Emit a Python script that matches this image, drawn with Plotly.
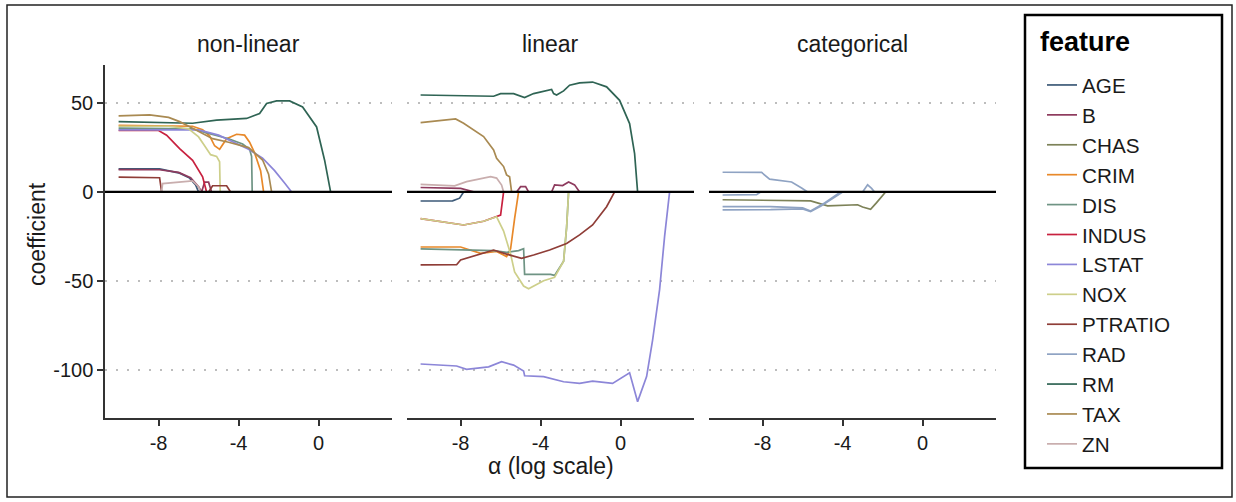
import plotly.graph_objects as go

# ---------------- data (x = log alpha, y = coefficient) ----------------
FEATURES = ["AGE", "B", "CHAS", "CRIM", "DIS", "INDUS", "LSTAT", "NOX",
            "PTRATIO", "RAD", "RM", "TAX", "ZN"]
COLORS = ["#3d5a78", "#8e3b5e", "#7d8258", "#e8892a", "#6f9484", "#c8213f",
          "#8c86d8", "#cdcf8a", "#8f3d37", "#8fa3c3", "#2f6454", "#a98a52", "#c9aeae"]
PANELS = ["non-linear", "linear", "categorical"]
X_TICKS = [-8, -4, 0]
Y_TICKS = [-100, -50, 0, 50]

# non-linear panel
NL_AGE_X = [-10, -7.95, -6.95, -6.45, -6.15, -6.0]
NL_AGE_Y = [13.0, 13.0, 10.6, 7.8, 4.0, 0]
NL_B_X = [-10, -7.95, -7.0, -6.4, -6.0, -5.85, -5.7, -5.5, -5.35]
NL_B_Y = [12.6, 12.5, 11.0, 8.0, 3.0, 0, 5.5, 5.5, 0]
NL_CRIM_X = [-10, -6.3, -5.8, -5.45, -5.2, -4.95, -4.6, -4.1, -3.7, -3.45, -3.2, -2.9, -2.75]
NL_CRIM_Y = [37.5, 37.0, 35.0, 31.6, 26.0, 24.0, 30.0, 32.5, 32.0, 28.0, 22.0, 12.0, 0]
NL_DIS_X = [-10, -6.3, -5.5, -4.5, -3.8, -3.45, -3.35, -3.32]
NL_DIS_Y = [36.0, 35.5, 33.0, 30.0, 27.0, 24.0, 20.0, 0]
NL_INDUS_X = [-10, -8.0, -7.6, -6.95, -6.3, -5.8, -5.6]
NL_INDUS_Y = [34.6, 34.6, 32.0, 24.4, 17.8, 8.5, 0]
NL_LSTAT_X = [-10, -6.0, -5.0, -4.3, -3.5, -2.8, -2.2, -1.7, -1.35]
NL_LSTAT_Y = [35.0, 35.0, 32.0, 28.3, 24.0, 19.0, 12.0, 5.0, 0]
NL_NOX_X = [-10, -7.5, -6.5, -6.0, -5.7, -5.4, -5.1, -4.95, -4.92]
NL_NOX_Y = [37.0, 37.0, 35.5, 31.0, 26.0, 21.0, 20.0, 17.0, 0]
NL_PTRATIO_X = [-10, -7.95, -7.85, -5.5, -5.3, -4.6, -4.4]
NL_PTRATIO_Y = [8.3, 8.0, 0, 0, 3.5, 3.5, 0]
NL_RM_X = [-10, -6.3, -5.1, -3.6, -2.95, -2.6, -2.1, -1.45, -0.8, -0.1, 0.3, 0.6]
NL_RM_Y = [39.6, 38.7, 40.5, 41.4, 44.2, 49.8, 51.3, 51.3, 47.9, 36.6, 17.9, 0]
NL_TAX_X = [-10, -8.45, -7.5, -6.95, -6.3, -5.8, -5.3, -4.5, -3.5, -2.8, -2.5, -2.35]
NL_TAX_Y = [42.8, 43.4, 42.0, 39.6, 35.9, 33.0, 30.0, 28.0, 25.0, 18.0, 10.0, 0]
NL_ZN_X = [-7.85, -7.8, -6.3, -6.0, -5.9]
NL_ZN_Y = [0, 4.7, 6.2, 3.0, 0]

# linear panel
LI_AGE_X = [-10, -8.4, -8.05, -7.85]
LI_AGE_Y = [-5.1, -5.0, -3.5, 0]
LI_B_X = [-10, -8.0, -7.3, -5.2, -5.0, -4.75, -4.6, -3.45, -3.3, -2.9, -2.6, -2.3, -2.05]
LI_B_Y = [2.5, 2.0, 0, 0, 3.0, 3.0, 0, 0, 4.0, 3.6, 5.6, 4.0, 0]
LI_CRIM_X = [-10, -8.0, -7.0, -6.2, -5.7, -5.5, -5.3, -5.1]
LI_CRIM_Y = [-31.0, -31.0, -34.6, -33.5, -36.4, -32.0, -15.0, 0]
LI_DIS_X = [-10, -6.35, -5.7, -5.1, -4.85, -4.8, -3.5, -3.3, -2.85, -2.7, -2.6]
LI_DIS_Y = [-32.1, -33.0, -34.0, -33.0, -32.0, -46.4, -46.4, -47.0, -39.0, -20.0, 0]
LI_INDUS_X = [-10, -7.85, -6.85, -6.2, -6.0, -5.85]
LI_INDUS_Y = [-15.0, -18.6, -16.5, -14.0, -13.0, 0]
LI_LSTAT_X = [-10, -8.2, -7.7, -6.6, -5.95, -5.35, -4.85, -4.8, -3.85, -2.85, -2.05,
              -1.4, -0.4, 0.45, 0.85, 1.3, 1.6, 1.95, 2.2, 2.45]
LI_LSTAT_Y = [-96.9, -98.0, -99.9, -98.5, -95.6, -97.5, -100.8, -103.5, -104.0, -106.9,
              -107.8, -106.5, -107.8, -101.8, -118.1, -104.0, -83.4, -55.0, -25.0, 0]
LI_NOX_X = [-10, -7.85, -6.85, -6.2, -5.85, -5.5, -5.3, -4.85, -4.6, -3.85, -3.3, -2.85, -2.7, -2.6]
LI_NOX_Y = [-15.0, -18.6, -16.5, -14.0, -22.0, -35.0, -45.0, -53.0, -54.5, -50.0, -48.0, -39.0, -20.0, 0]
LI_PTRATIO_X = [-10, -8.2, -8.0, -6.35, -5.7, -4.95, -4.35, -3.55, -2.7, -2.05, -1.4, -0.7, -0.3]
LI_PTRATIO_Y = [-41.1, -41.0, -38.3, -32.7, -35.0, -37.4, -35.5, -32.7, -29.0, -24.2, -18.6, -8.3, 0]
LI_RM_X = [-10, -6.35, -6.0, -5.35, -4.8, -4.35, -3.45, -3.35, -3.2, -2.85, -2.55, -2.05,
           -1.4, -0.7, -0.05, 0.45, 0.7, 0.85]
LI_RM_Y = [54.6, 53.9, 55.4, 55.4, 53.2, 55.4, 57.7, 55.4, 54.6, 56.9, 60.1, 61.4,
           61.9, 59.2, 51.6, 38.5, 21.6, 0]
LI_TAX_X = [-10, -8.25, -7.85, -6.85, -6.35, -6.2, -5.85, -5.7, -5.55, -5.45]
LI_TAX_Y = [39.0, 41.1, 38.7, 31.2, 23.7, 19.0, 14.3, 9.6, 8.5, 0]
LI_ZN_X = [-10, -8.3, -7.7, -6.5, -6.2, -5.95, -5.85]
LI_ZN_Y = [4.3, 3.4, 5.8, 8.6, 7.8, 3.9, 0]

# categorical panel
CA_CHAS_X = [-10, -5.6, -4.75, -3.25, -3.0, -2.6, -2.3, -1.85]
CA_CHAS_Y = [-4.4, -5.0, -7.8, -7.2, -8.5, -9.8, -6.0, 0]
CA_RAD1_X = [-10, -8.05, -7.65, -6.55, -6.05, -5.75]
CA_RAD1_Y = [11.1, 11.0, 7.2, 5.6, 2.2, 0]
CA_RAD2_X = [-10, -8.3, -8.1]
CA_RAD2_Y = [-1.7, -1.5, 0]
CA_RAD3_X = [-10, -7.6, -6.0, -5.6, -4.9, -4.1]
CA_RAD3_Y = [-8.3, -8.3, -9.0, -10.7, -6.2, 0]
CA_RAD4_X = [-10, -7.6, -6.0, -5.6, -5.1, -4.0]
CA_RAD4_Y = [-10.1, -10.0, -9.5, -11.0, -8.0, 0]
CA_RAD5_X = [-3.0, -2.75, -2.55, -2.4]
CA_RAD5_Y = [0, 4.0, 2.0, 0]

SERIES = [
    # (panel index, feature, x, y)
    (0, "AGE", NL_AGE_X, NL_AGE_Y), (0, "B", NL_B_X, NL_B_Y),
    (0, "CRIM", NL_CRIM_X, NL_CRIM_Y), (0, "DIS", NL_DIS_X, NL_DIS_Y),
    (0, "INDUS", NL_INDUS_X, NL_INDUS_Y), (0, "LSTAT", NL_LSTAT_X, NL_LSTAT_Y),
    (0, "NOX", NL_NOX_X, NL_NOX_Y), (0, "PTRATIO", NL_PTRATIO_X, NL_PTRATIO_Y),
    (0, "RM", NL_RM_X, NL_RM_Y), (0, "TAX", NL_TAX_X, NL_TAX_Y),
    (0, "ZN", NL_ZN_X, NL_ZN_Y),
    (1, "AGE", LI_AGE_X, LI_AGE_Y), (1, "B", LI_B_X, LI_B_Y),
    (1, "CRIM", LI_CRIM_X, LI_CRIM_Y), (1, "DIS", LI_DIS_X, LI_DIS_Y),
    (1, "INDUS", LI_INDUS_X, LI_INDUS_Y), (1, "LSTAT", LI_LSTAT_X, LI_LSTAT_Y),
    (1, "NOX", LI_NOX_X, LI_NOX_Y), (1, "PTRATIO", LI_PTRATIO_X, LI_PTRATIO_Y),
    (1, "RM", LI_RM_X, LI_RM_Y), (1, "TAX", LI_TAX_X, LI_TAX_Y),
    (1, "ZN", LI_ZN_X, LI_ZN_Y),
    (2, "CHAS", CA_CHAS_X, CA_CHAS_Y), (2, "RAD", CA_RAD1_X, CA_RAD1_Y),
    (2, "RAD", CA_RAD2_X, CA_RAD2_Y), (2, "RAD", CA_RAD3_X, CA_RAD3_Y),
    (2, "RAD", CA_RAD4_X, CA_RAD4_Y), (2, "RAD", CA_RAD5_X, CA_RAD5_Y),
]

# ---------------- figure ----------------
W, H = 1236, 502
FONT = "Liberation Sans, Arial, Helvetica, sans-serif"
TXT = "#1a1a1a"

def px_x(p):
    return p / W

def px_y(p):
    return 1 - p / H

panel_left = [105, 407, 709]
panel_w = 287
y_top, y_bot = 65, 418
X_RANGE = [-10.68, 3.67]
Y_RANGE = [-127.3, 71.5]

fig = go.Figure()
color_of = dict(zip(FEATURES, COLORS))
shown = set()
# add in legend order
for feat in FEATURES:
    for (pi, f, xs, ys) in SERIES:
        if f != feat:
            continue
        suffix = "" if pi == 0 else str(pi + 1)
        fig.add_trace(go.Scatter(
            x=xs, y=ys, mode="lines", name=feat, legendgroup=feat,
            showlegend=feat not in shown,
            line=dict(color=color_of[feat], width=1.7),
            xaxis="x" + suffix, yaxis="y" + suffix, hoverinfo="skip"))
        shown.add(feat)

layout = dict(
    width=W, height=H, autosize=False,
    margin=dict(l=0, r=0, t=0, b=0),
    paper_bgcolor="white", plot_bgcolor="white",
    font=dict(family=FONT, color=TXT),
    showlegend=True,
    legend=dict(
        x=px_x(1042), y=px_y(65), xanchor="left", yanchor="top",
        bgcolor="rgba(0,0,0,0)", borderwidth=0,
        font=dict(size=20.7, family=FONT, color=TXT),
        itemwidth=30, tracegroupgap=0,
    ),
)

for i in range(3):
    suffix = "" if i == 0 else str(i + 1)
    x0 = panel_left[i]
    layout["xaxis" + suffix] = dict(
        domain=[px_x(x0), px_x(x0 + panel_w)], range=X_RANGE,
        anchor="y" + suffix, showline=True, linecolor="#333", linewidth=1.5,
        ticks="outside", ticklen=6, tickwidth=1.5, tickcolor="#333",
        tickvals=X_TICKS, ticktext=[str(v) for v in X_TICKS],
        tickfont=dict(size=20, color=TXT), showgrid=False, zeroline=False,
        fixedrange=True)
    layout["yaxis" + suffix] = dict(
        domain=[px_y(y_bot), px_y(y_top)], range=Y_RANGE,
        anchor="x" + suffix, showline=(i == 0), linecolor="#333", linewidth=1.5,
        ticks="outside" if i == 0 else "", ticklen=6, tickwidth=1.5, tickcolor="#333",
        tickvals=Y_TICKS, ticktext=[str(v) for v in Y_TICKS],
        showticklabels=(i == 0), tickfont=dict(size=20, color=TXT),
        showgrid=True, gridcolor="#bdbdbd", gridwidth=2, griddash="2px,9px",
        zeroline=False, fixedrange=True)

fig.update_layout(**layout)

shapes = []
for i in range(3):
    suffix = "" if i == 0 else str(i + 1)
    shapes.append(dict(type="line", xref=("x" + suffix + " domain"), yref="y" + suffix,
                       x0=0, x1=1, y0=0, y1=0, layer="above",
                       line=dict(color="black", width=2.2)))
# outer border and legend box
shapes.append(dict(type="rect", xref="paper", yref="paper",
                   x0=px_x(7), x1=px_x(1232), y0=px_y(497), y1=px_y(5),
                   line=dict(color="#222", width=1.5), layer="below"))
shapes.append(dict(type="rect", xref="paper", yref="paper",
                   x0=px_x(1025), x1=px_x(1222), y0=px_y(468), y1=px_y(15),
                   line=dict(color="black", width=2.5), layer="above"))
fig.update_layout(shapes=shapes)

annotations = []
for i, name in enumerate(PANELS):
    annotations.append(dict(text=name, xref="paper", yref="paper",
                            x=px_x(panel_left[i] + panel_w / 2), y=px_y(44),
                            xanchor="center", yanchor="middle", showarrow=False,
                            font=dict(size=23, color=TXT)))
annotations.append(dict(text="α (log scale)", xref="paper", yref="paper",
                        x=px_x(551), y=px_y(466), xanchor="center", yanchor="middle",
                        showarrow=False, font=dict(size=23, color=TXT)))
annotations.append(dict(text="coefficient", xref="paper", yref="paper",
                        x=px_x(37), y=px_y(234), xanchor="center", yanchor="middle",
                        textangle=-90, showarrow=False, font=dict(size=23, color=TXT)))
# legend heading
annotations.append(dict(text="<b>feature</b>", xref="paper", yref="paper",
                        x=px_x(1038), y=px_y(42), xanchor="left", yanchor="middle",
                        showarrow=False, font=dict(size=27, color="#000")))
fig.update_layout(annotations=annotations)

fig.write_html("out.html")
